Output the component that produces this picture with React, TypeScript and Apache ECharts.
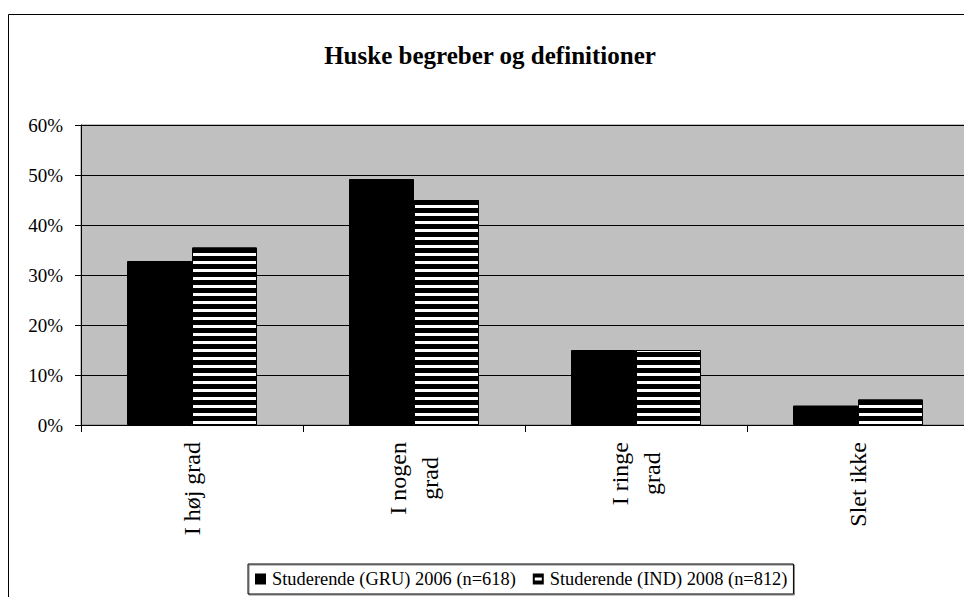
import React, { useEffect, useRef } from "react";
import * as echarts from "echarts";

const categories = ["I høj grad", "I nogen\ngrad", "I ringe\ngrad", "Slet ikke"];
const seriesNames = ["Studerende (GRU) 2006 (n=618)", "Studerende (IND) 2008 (n=812)"];
const gru2006 = [32.8, 49.2, 15.0, 3.9];
const ind2008 = [35.5, 45.0, 15.0, 5.1];
const yTicks = [0, 10, 20, 30, 40, 50, 60];

const SERIF = "'Liberation Serif', 'Times New Roman', serif";

export default function App() {
  const ref = useRef<HTMLDivElement>(null);
  useEffect(() => {
    if (!ref.current) return;
    const chart = echarts.init(ref.current, undefined, { renderer: "svg" });
    chart.setOption({
      animation: false,
      backgroundColor: "#fff",
      title: {
        text: "Huske begreber og definitioner",
        left: "center",
        top: 30,
        textStyle: { fontFamily: SERIF, fontSize: 25, fontWeight: "bold", color: "#000" },
      },
      graphic: [
        {
          type: "rect",
          shape: { x: 0.5, y: 6.5, width: 1100, height: 1100 },
          style: { fill: "none", stroke: "#000", lineWidth: 1 },
          silent: true,
          z: 100,
        },
      ],
      legend: {
        left: 240,
        top: 556,
        padding: [6, 6, 6, 7],
        borderColor: "#000",
        borderWidth: 1,
        shadowColor: "rgba(0,0,0,0.5)",
        shadowOffsetX: 1,
        shadowOffsetY: 1,
        itemWidth: 11,
        itemHeight: 11,
        itemGap: 17,
        textStyle: { fontFamily: SERIF, fontSize: 18.4, color: "#000", padding: [0, 0, 0, 1] },
        data: [
          { name: seriesNames[0], icon: "rect", itemStyle: { color: "#000", borderWidth: 0, decal: "none" } },
          {
            name: seriesNames[1],
            icon: "path://M0,0H11V11H0Z M2,4V7H9V4Z",
            itemStyle: { color: "#000", borderWidth: 0, decal: "none" },
          },
        ],
      },
      grid: {
        left: 73,
        right: 3,
        top: 117,
        bottom: 172,
        show: true,
        backgroundColor: "#C0C0C0",
        borderColor: "#808080",
        borderWidth: 1,
      },
      xAxis: {
        type: "category",
        data: categories,
        boundaryGap: true,
        axisLine: { show: true, lineStyle: { color: "#000", width: 1 } },
        axisTick: { show: true, length: 7, lineStyle: { color: "#000" } },
        axisLabel: {
          rotate: 90,
          margin: 17,
          color: "#000",
          fontFamily: SERIF,
          fontSize: 24,
          formatter: (v: string) => v.split("\n").map((l) => `{c|${l}}`).join("\n"),
          rich: {
            c: { align: "center", fontFamily: SERIF, fontSize: 24, lineHeight: 32, color: "#000" },
          },
        },
      },
      yAxis: {
        type: "value",
        min: yTicks[0],
        max: yTicks[yTicks.length - 1],
        interval: 10,
        axisLine: { show: true, lineStyle: { color: "#000", width: 1 } },
        axisTick: { show: true, length: 6, lineStyle: { color: "#000" } },
        splitLine: { show: true, lineStyle: { color: "#000", width: 1 } },
        axisLabel: {
          margin: 18,
          color: "#000",
          fontFamily: SERIF,
          fontSize: 19,
          formatter: "{value}%",
        },
      },
      series: [
        {
          name: seriesNames[0],
          type: "bar",
          data: gru2006,
          barWidth: 65,
          barGap: "0%",
          itemStyle: { color: "#000", borderColor: "#000", borderWidth: 1 },
        },
        {
          name: seriesNames[1],
          type: "bar",
          data: ind2008,
          barWidth: 65,
          barGap: "0%",
          itemStyle: {
            color: "#fff",
            borderColor: "#000",
            borderWidth: 1,
            decal: {
              symbol: "rect",
              symbolSize: 1,
              color: "#000",
              dashArrayX: [1, 0],
              dashArrayY: [5, 2.6],
              rotation: 0,
            },
          },
        },
      ],
    });
    return () => chart.dispose();
  }, []);
  return <div ref={ref} style={{ width: 964, height: 589 }} />;
}
